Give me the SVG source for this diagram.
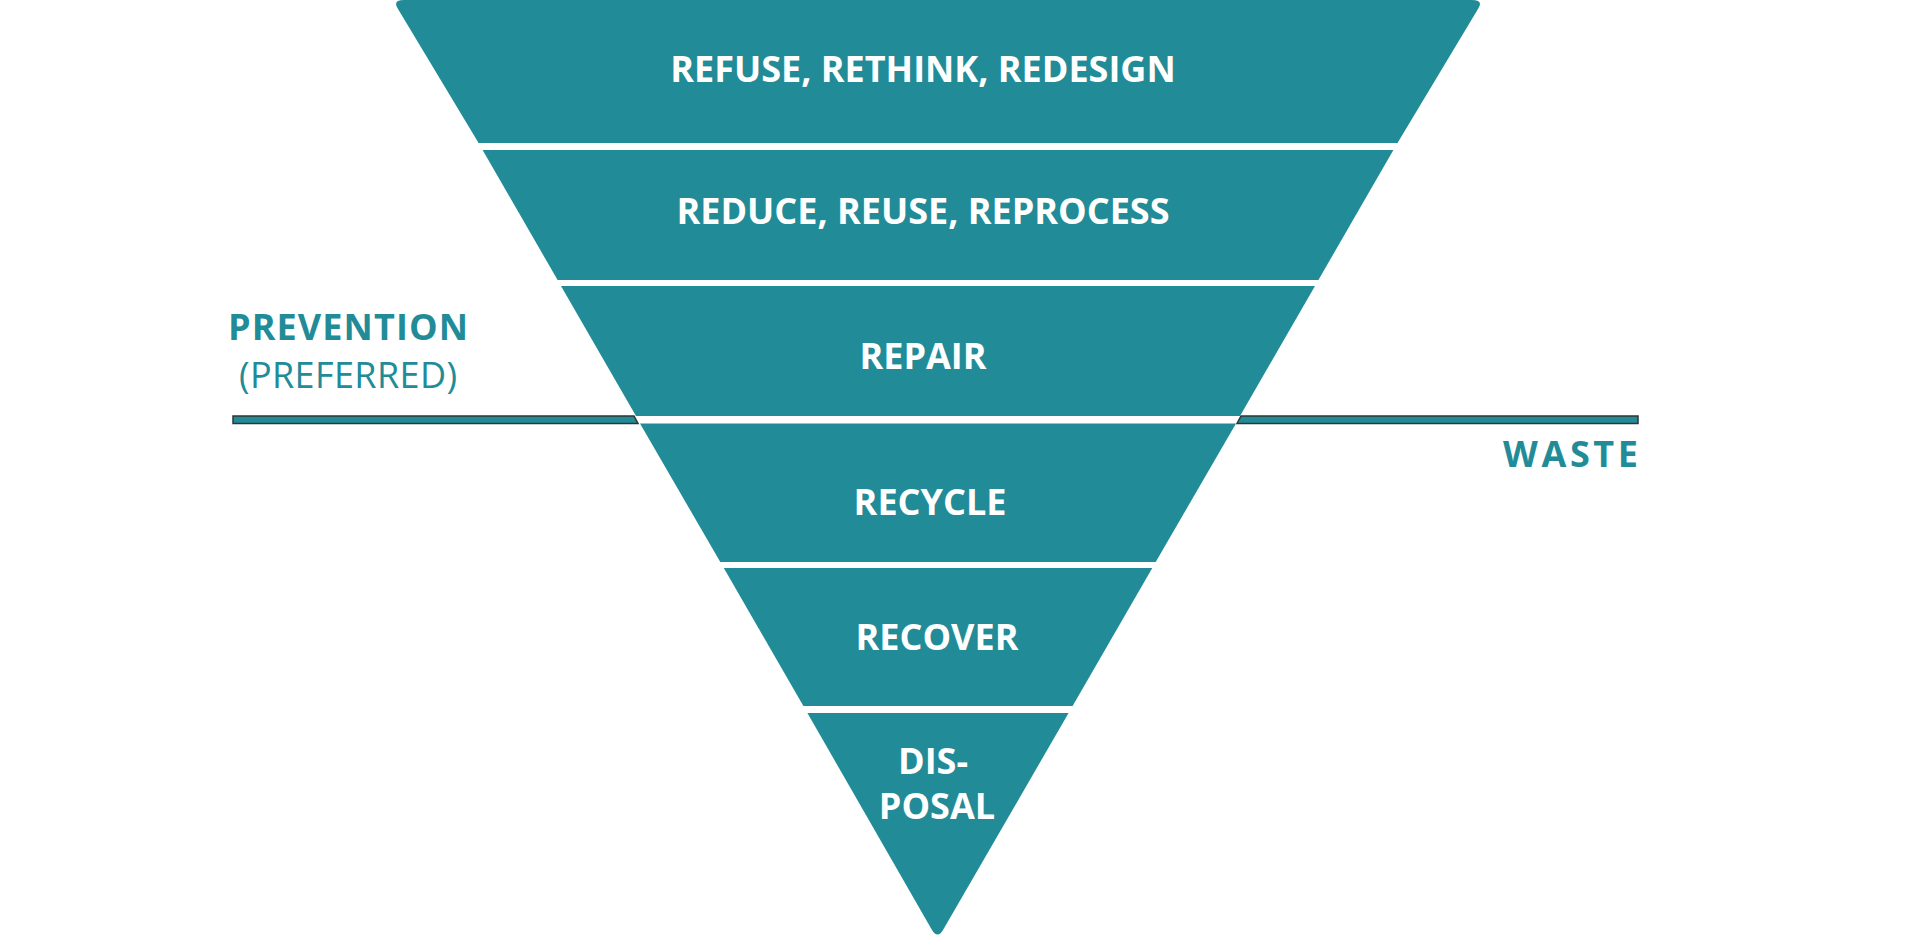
<svg xmlns="http://www.w3.org/2000/svg" width="1919" height="938" viewBox="0 0 1919 938">
<style>
.band{fill:#218C98}
.t{font-family:"Open Sans","Liberation Sans",sans-serif;font-weight:bold;font-size:36px;fill:#fff;text-anchor:middle}
.side{font-family:"Open Sans","Liberation Sans",sans-serif;fill:#218C98;font-size:36px}
.bar{fill:#218C98;stroke:#333;stroke-width:1.5}
</style>
<rect width="1919" height="938" fill="#fff"/>
<g id="connectors">
<polygon class="bar" points="233,416 634,416 638,423.5 233,423.5"/>
<polygon class="bar" points="1241,416 1638,416 1638,423.5 1237,423.5"/>
</g>
<g id="band1"><path class="band" d="M404,0 L1472,0 Q1484,0 1478,9 L1397.5,143 L478.6,143 L398,9 Q392,0 404,0 Z"/><text class="t" x="923" y="82">REFUSE, RETHINK, REDESIGN</text></g>
<g id="band2"><polygon class="band" points="482.6,150 1393.4,150 1318.4,280 557.6,280"/><text class="t" x="923" y="224">REDUCE, REUSE, REPROCESS</text></g>
<g id="band3"><polygon class="band" points="561,286 1315,286 1240,416 636,416"/><text class="t" x="923" y="369">REPAIR</text></g>
<g id="band4"><polygon class="band" points="640,423.5 1236,423.5 1155.7,562 720.3,562"/><text class="t" x="930" y="515">RECYCLE</text></g>
<g id="band5"><polygon class="band" points="723.8,568 1152.3,568 1072.6,706 803.4,706"/><text class="t" x="937" y="650">RECOVER</text></g>
<g id="band6"><path class="band" d="M807.4,713 L1068.6,713 L943,930 Q937.5,939 932,930 Z"/><text class="t" x="933" y="774">DIS-</text><text class="t" x="937" y="819">POSAL</text></g>
<g id="prevention"><text class="side" font-weight="bold" x="228" y="340" textLength="240">PREVENTION</text><text class="side" x="239" y="388" textLength="218">(PREFERRED)</text></g>
<g id="waste"><text class="side" font-weight="bold" x="1503" y="467" textLength="135">WASTE</text></g>
</svg>
